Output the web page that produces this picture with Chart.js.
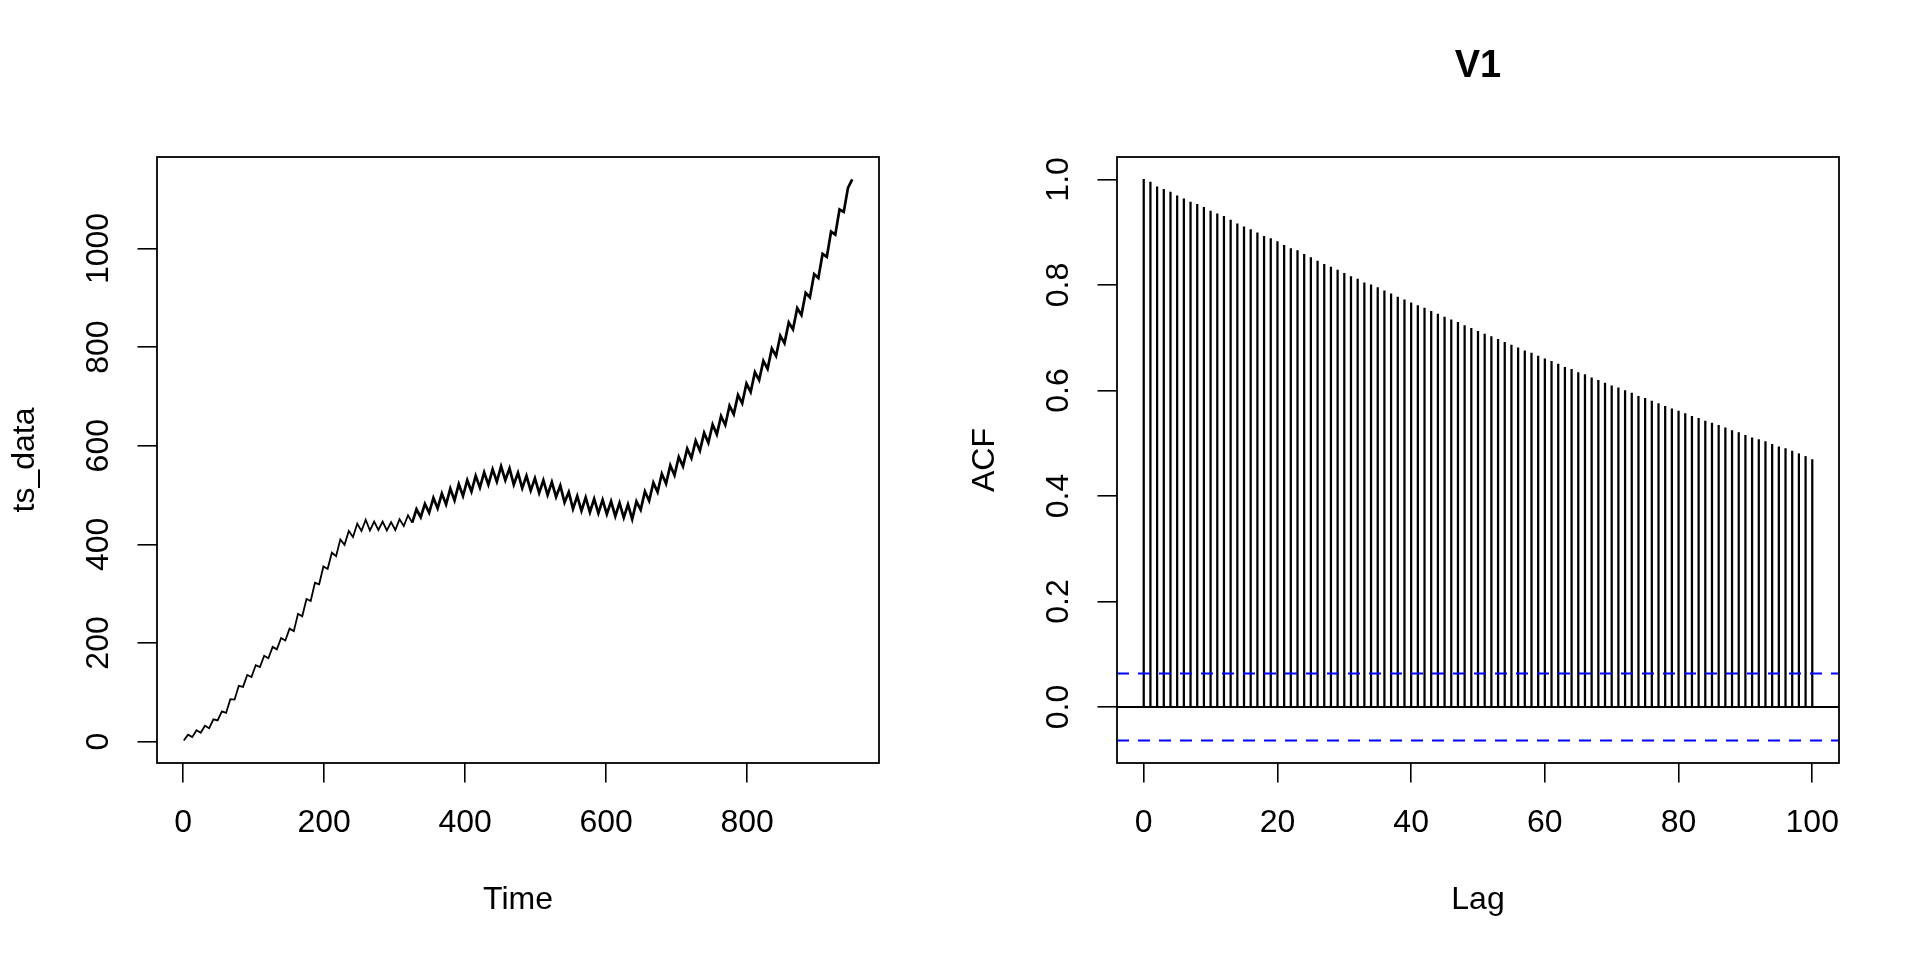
<!DOCTYPE html>
<html>
<head>
<meta charset="utf-8">
<script src="https://cdn.jsdelivr.net/npm/chart.js@4.4.1/dist/chart.umd.min.js"></script>
<style>
html, body { margin: 0; padding: 0; background: #fff; }
body { width: 1920px; height: 960px; position: relative; overflow: hidden; }
canvas { position: absolute; top: 0; }
#tsChart { left: 0; }
#acfChart { left: 960px; }
</style>
</head>
<body>
<canvas id="tsChart" width="960" height="960"></canvas>
<canvas id="acfChart" width="960" height="960"></canvas>
<script>
// left panel: the series itself (read every 6 steps, troughs and peaks)
const timePoints = [
	1, 7, 13, 19, 25, 31, 37, 43, 49, 55, 61, 67, 73, 79, 85, 91, 97, 103, 109, 115,
	121, 127, 133, 139, 145, 151, 157, 163, 169, 175, 181, 187, 193, 199, 205, 211, 217, 223, 229, 235,
	241, 247, 253, 259, 265, 271, 277, 283, 289, 295, 301, 307, 313, 319, 325, 331, 337, 343, 349, 355,
	361, 367, 373, 379, 385, 391, 397, 403, 409, 415, 421, 427, 433, 439, 445, 451, 457, 463, 469, 475,
	481, 487, 493, 499, 505, 511, 517, 523, 529, 535, 541, 547, 553, 559, 565, 571, 577, 583, 589, 595,
	601, 607, 613, 619, 625, 631, 637, 643, 649, 655, 661, 667, 673, 679, 685, 691, 697, 703, 709, 715,
	721, 727, 733, 739, 745, 751, 757, 763, 769, 775, 781, 787, 793, 799, 805, 811, 817, 823, 829, 835,
	841, 847, 853, 859, 865, 871, 877, 883, 889, 895, 901, 907, 913, 919, 925, 931, 937, 943, 949
];
const tsData = [
	2, 14, 9, 23, 18, 32, 27, 45, 43, 61, 58, 86, 85, 113, 111, 135, 131, 155, 151, 174,
	169, 192, 187, 210, 205, 229, 224, 259, 254, 289, 285, 322, 319, 355, 350, 383, 376, 410, 399, 427,
	415, 442, 427, 450, 428, 446, 429, 446, 428, 445, 429, 451, 437, 459, 444, 471, 455, 482, 464, 494,
	473, 503, 481, 513, 489, 522, 498, 530, 507, 539, 515, 546, 521, 552, 527, 558, 530, 554, 521, 545,
	514, 539, 509, 534, 504, 530, 500, 526, 496, 519, 485, 506, 472, 498, 468, 495, 465, 492, 463, 490,
	461, 487, 457, 484, 454, 481, 451, 487, 470, 507, 488, 525, 506, 543, 523, 560, 540, 577, 558, 594,
	575, 610, 590, 626, 606, 643, 623, 660, 642, 681, 664, 703, 686, 726, 709, 749, 733, 772, 756, 797,
	782, 823, 808, 850, 836, 879, 865, 910, 901, 948, 940, 989, 983, 1034, 1028, 1079, 1074, 1123, 1140
];
const timeTicks = [0, 200, 400, 600, 800];
const tsTicks = [0, 200, 400, 600, 800, 1000];
const timeRange = [-37, 987];
const tsRange = [-43.5, 1185.5];

// right panel: autocorrelation
const lags = [
	0, 1, 2, 3, 4, 5, 6, 7, 8, 9, 10, 11, 12, 13, 14, 15, 16, 17, 18, 19, 20,
	21, 22, 23, 24, 25, 26, 27, 28, 29, 30, 31, 32, 33, 34, 35, 36, 37, 38, 39, 40,
	41, 42, 43, 44, 45, 46, 47, 48, 49, 50, 51, 52, 53, 54, 55, 56, 57, 58, 59, 60,
	61, 62, 63, 64, 65, 66, 67, 68, 69, 70, 71, 72, 73, 74, 75, 76, 77, 78, 79, 80,
	81, 82, 83, 84, 85, 86, 87, 88, 89, 90, 91, 92, 93, 94, 95, 96, 97, 98, 99, 100
];
const acfValues = [
	1.000, 0.995, 0.986, 0.981, 0.976, 0.969, 0.963, 0.957, 0.953, 0.947, 0.940,
	0.935, 0.930, 0.923, 0.916, 0.910, 0.905, 0.899, 0.892, 0.888, 0.882,
	0.875, 0.869, 0.865, 0.858, 0.852, 0.845, 0.839, 0.834, 0.828, 0.822,
	0.816, 0.811, 0.804, 0.800, 0.795, 0.789, 0.783, 0.777, 0.772, 0.766,
	0.761, 0.756, 0.750, 0.745, 0.739, 0.734, 0.729, 0.723, 0.718, 0.712,
	0.707, 0.702, 0.697, 0.691, 0.686, 0.681, 0.675, 0.671, 0.665, 0.660,
	0.655, 0.650, 0.644, 0.640, 0.634, 0.630, 0.624, 0.619, 0.614, 0.609,
	0.605, 0.600, 0.595, 0.589, 0.585, 0.580, 0.575, 0.570, 0.565, 0.561,
	0.556, 0.551, 0.547, 0.542, 0.538, 0.534, 0.529, 0.524, 0.520, 0.515,
	0.510, 0.507, 0.503, 0.498, 0.493, 0.490, 0.485, 0.480, 0.475, 0.469
];
const lagTicks = [0, 20, 40, 60, 80, 100];
const acfTicks = [0, 0.2, 0.4, 0.6, 0.8, 1.0];
const lagRange = [-4, 104];
const acfRange = [-0.1061, 1.0425];
const ciBound = 0.0636;

const fontFamily = '"Liberation Sans", Arial, Helvetica, sans-serif';
Chart.defaults.font.family = fontFamily;
Chart.defaults.font.size = 32;
Chart.defaults.color = '#000';

const tickLen = 19.5;
const yLabelMid = 99.5;

function widestLabel(labels) {
	const c = document.createElement('canvas').getContext('2d');
	c.font = '32px ' + fontFamily;
	return Math.max.apply(null, labels.map(function (l) { return c.measureText(l).width; }));
}

const boxPlugin = {
	id: 'box',
	afterDraw(chart) {
		const a = chart.chartArea;
		const ctx = chart.ctx;
		ctx.save();
		ctx.strokeStyle = '#000';
		ctx.lineWidth = 1.8;
		ctx.strokeRect(a.left, a.top, a.right - a.left, a.bottom - a.top);
		ctx.restore();
	}
};

function fixTicks(values) {
	return function (scale) {
		scale.ticks = values.map(function (v) { return { value: v }; });
	};
}

function gridOpts() {
	return { drawOnChartArea: false, drawTicks: true, tickLength: tickLen, color: '#000', lineWidth: 1.6, offset: false };
}

function xAxis(range, ticks, title) {
	return {
		type: 'linear',
		min: range[0],
		max: range[1],
		offset: false,
		afterBuildTicks: fixTicks(ticks),
		afterFit(scale) { scale.height = 197; },
		border: { display: false },
		grid: gridOpts(),
		ticks: { padding: 21.5, autoSkip: false, minRotation: 0, maxRotation: 0, callback: function (v) { return String(v); } },
		title: { display: true, text: title, padding: { top: 0, bottom: 40.8 } }
	};
}

function yAxis(range, ticks, title, fmt) {
	const widest = widestLabel(ticks.map(fmt));
	return {
		type: 'linear',
		min: range[0],
		max: range[1],
		afterBuildTicks: fixTicks(ticks),
		afterFit(scale) { scale.width = 157; },
		border: { display: false },
		grid: gridOpts(),
		ticks: {
			padding: 157 - tickLen - widest / 2 - yLabelMid,
			autoSkip: false,
			minRotation: 90,
			maxRotation: 90,
			crossAlign: 'center',
			callback: fmt
		},
		title: { display: true, text: title, padding: { top: 6.3, bottom: 0 } }
	};
}

const commonOpts = {
	responsive: false,
	animation: false,
	devicePixelRatio: 1,
	events: []
};

new Chart(document.getElementById('tsChart'), {
	type: 'line',
	data: {
		datasets: [{
			data: timePoints.map(function (t, i) { return { x: t, y: tsData[i] }; }),
			borderColor: '#000',
			borderWidth: 2,
			segment: {
				// the later, noisier part reads as a heavier band
				borderWidth: function (ctx) { return ctx.p0.parsed.x < 320 ? 1.8 : 2.7; }
			},
			pointRadius: 0,
			tension: 0,
			fill: false
		}]
	},
	options: Object.assign({}, commonOpts, {
		layout: { padding: { left: 0, right: 81, top: 157, bottom: 0 } },
		plugins: { legend: { display: false }, tooltip: { enabled: false }, title: { display: false } },
		scales: {
			x: xAxis(timeRange, timeTicks, 'Time'),
			y: yAxis(tsRange, tsTicks, 'ts_data', function (v) { return String(v); })
		}
	}),
	plugins: [boxPlugin]
});

function hLine(y, color, dash, width) {
	return {
		type: 'line',
		data: [{ x: lagRange[0], y: y }, { x: lagRange[1], y: y }],
		borderColor: color,
		borderWidth: width,
		borderDash: dash,
		pointRadius: 0,
		fill: false
	};
}

new Chart(document.getElementById('acfChart'), {
	type: 'bar',
	data: {
		datasets: [
			hLine(ciBound, '#0000ff', [12, 9], 2),
			hLine(-ciBound, '#0000ff', [12, 9], 2),
			hLine(0, '#000', [], 1.8),
			{
				type: 'bar',
				data: lags.map(function (l, i) { return { x: l, y: acfValues[i] }; }),
				backgroundColor: '#000',
				borderWidth: 0,
				barThickness: 1.6,
				grouped: false
			}
		]
	},
	options: Object.assign({}, commonOpts, {
		layout: { padding: { left: 0, right: 81, top: 0, bottom: 0 } },
		plugins: {
			legend: { display: false },
			tooltip: { enabled: false },
			title: {
				display: true,
				fullSize: false,
				text: 'V1',
				font: { size: 38, weight: 'bold', family: fontFamily },
				color: '#000',
				padding: { top: 44, bottom: 67.4 }
			}
		},
		scales: {
			x: xAxis(lagRange, lagTicks, 'Lag'),
			y: yAxis(acfRange, acfTicks, 'ACF', function (v) { return v.toFixed(1); })
		}
	}),
	plugins: [boxPlugin]
});
</script>
</body>
</html>
